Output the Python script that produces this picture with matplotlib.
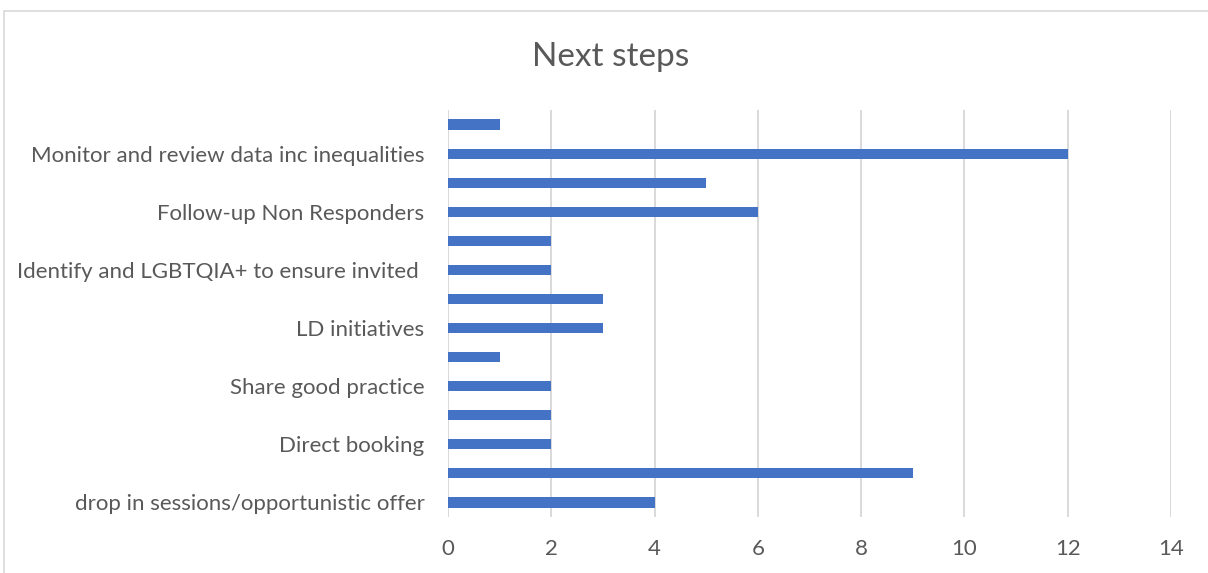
import matplotlib.pyplot as plt
import matplotlib.patches as mpatches

labels = ['drop in sessions/opportunistic offer', '', 'Direct booking', '',
          'Share good practice', '', 'LD initiatives', '',
          'Identify and LGBTQIA+ to ensure invited ', '', 'Follow-up Non Responders', '',
          'Monitor and review data inc inequalities', '']
values = [4, 9, 2, 2, 2, 1, 3, 3, 2, 2, 6, 5, 12, 1]
xticks = [0, 2, 4, 6, 8, 10, 12, 14]

plt.rcParams['font.family'] = ['Lato', 'DejaVu Sans']

fig = plt.figure(figsize=(12.08, 5.73), dpi=100)
ax = fig.add_axes([448 / 1208, 1 - 517 / 573, (1171 - 448) / 1208, (517 - 110) / 573])

# chart border (cropped at right/bottom)
fig.patches.append(mpatches.Rectangle((4 / 1208, -0.1), 1.2, (573 - 11) / 573 + 0.1,
                                      transform=fig.transFigure, fill=False,
                                      edgecolor='#d9d9d9', linewidth=1.2))

ypos = list(range(len(values)))
ax.barh(ypos, values, height=0.35, color='#4472c4', zorder=3)

ax.set_xlim(0, 14)
ax.set_ylim(-0.5, 13.5)
ax.set_xticks(xticks)
ax.set_yticks(ypos)
ax.set_yticklabels(labels)
ax.grid(axis='x', color='#d9d9d9', linewidth=1.4, zorder=0)
for s in ax.spines.values():
    s.set_visible(False)
ax.tick_params(axis='both', length=0, labelsize=16, labelcolor='#595959')
ax.tick_params(axis='x', pad=16)
ax.tick_params(axis='y', pad=17)

fig.text(611 / 1208, 1 - 57 / 573, 'Next steps', ha='center', va='center',
         fontsize=24, color='#595959')

fig.savefig('out.png', dpi=100)
